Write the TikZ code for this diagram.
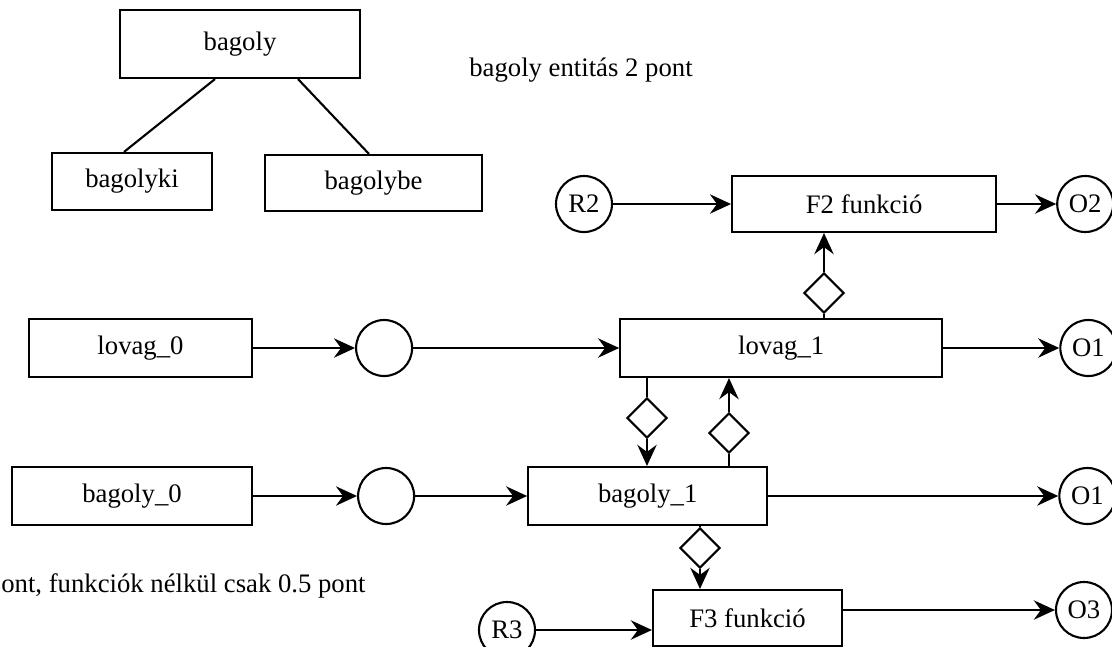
\documentclass[tikz,border=0pt]{standalone}
\usepackage{fontspec}
\setmainfont{Liberation Serif}
\usetikzlibrary{arrows.meta,positioning,shapes.geometric}
\tikzset{
  entbox/.style={rectangle,draw,line width=1.2pt,minimum height=1.16cm,inner sep=2pt},
  statecirc/.style={circle,draw,line width=1.2pt,minimum size=1.12cm,inner sep=0pt},
  linkdiamond/.style={diamond,draw,line width=1.2pt,aspect=1,minimum size=0.8cm,inner sep=0pt},
  link/.style={line width=1.2pt},
  arrow/.style={-{Stealth[length=12pt,width=11pt,inset=4pt]},line width=1.2pt}
}

\begin{document}
\begin{tikzpicture}[font=\fontsize{15.2}{18}\selectfont]
  \useasboundingbox (0,0) rectangle (22.24,-12.92);
  % entity tree
  \node[entbox, minimum width=4.8cm, minimum height=1.36cm] (bagoly) at (4.8,-0.88) {bagoly};
  \node[entbox, minimum width=3.2cm, minimum height=1.14cm] (bagolyki) at (2.64,-3.63) {bagolyki};
  \node[entbox, minimum width=4.34cm, minimum height=1.12cm] (bagolybe) at (7.47,-3.66) {bagolybe};
  \node (note1) at (11.62,-1.4) {bagoly entitás 2 pont};
  \draw[link] ([xshift=-0.5cm]bagoly.south) -- ([xshift=-0.16cm]bagolyki.north);
  \draw[link] ([xshift=1.16cm]bagoly.south) -- ([xshift=-0.09cm]bagolybe.north);
  % F2 row
  \node[statecirc] (r2) at (11.68,-4.08) {R2};
  \node[entbox, minimum width=5.28cm, minimum height=1.12cm, right=2.36cm of r2] (f2) {F2 funkció};
  \node[statecirc, right=1.18cm of f2] (o2) {O2};
  % lovag row
  \node[entbox, minimum width=4.46cm] (lovag0) at (2.81,-6.96) {lovag\_0};
  \node[statecirc, right=2.04cm of lovag0] (c1) {};
  \node[entbox, minimum width=6.44cm, right=4.12cm of c1] (lovag1) {lovag\_1};
  \node[statecirc, right=2.32cm of lovag1] (o1a) {O1};
  % bagoly row
  \node[entbox, minimum width=4.8cm] (bagoly0) at (2.64,-9.92) {bagoly\_0};
  \node[statecirc, right=2.08cm of bagoly0] (c2) {};
  \node[entbox, minimum width=4.78cm, right=2.24cm of c2] (bagoly1) {bagoly\_1};
  \node[statecirc, right=5.8cm of bagoly1] (o1b) {O1};
  % F3 row
  \node[entbox, minimum width=3.78cm, minimum height=1.12cm] (f3) at (14.95,-12.36) {F3 funkció};
  \node[statecirc] (r3) at (10.14,-12.6) {R3};
  \node[statecirc] (o3) at (21.68,-12.2) {O3};
  \node[anchor=west, inner sep=0pt] (note2) at (0.02,-11.72) {ont, funkciók nélkül csak 0.5 pont};
  % links
  \node[linkdiamond] (d2) at (16.48,-5.86) {};
  \node[linkdiamond] (dl) at (12.94,-8.36) {};
  \node[linkdiamond] (dr) at (14.58,-8.66) {};
  \node[linkdiamond] (d3) at (14.0,-10.96) {};
  \draw[arrow] (r2) -- (f2);
  \draw[arrow] (f2) -- (o2);
  \draw[arrow] (lovag0) -- (c1);
  \draw[arrow] (c1) -- (lovag1);
  \draw[arrow] (lovag1) -- (o1a);
  \draw[arrow] (bagoly0) -- (c2);
  \draw[arrow] (c2) -- (bagoly1);
  \draw[arrow] (bagoly1) -- (o1b);
  \draw[arrow] (r3.east) -- (r3.east -| f3.west);
  \draw[arrow] (f3.east |- o3) -- (o3);
  \draw[link] (d2 |- lovag1.north) -- (d2.south);
  \draw[arrow] (d2.north) -- (d2 |- f2.south);
  \draw[link] (dl |- lovag1.south) -- (dl.north);
  \draw[arrow] (dl.south) -- (dl |- bagoly1.north);
  \draw[link] (dr |- bagoly1.north) -- (dr.south);
  \draw[arrow] (dr.north) -- (dr |- lovag1.south);
  \draw[link] (d3 |- bagoly1.south) -- (d3.north);
  \draw[arrow] (d3.south) -- (d3 |- f3.north);
\end{tikzpicture}
\end{document}
